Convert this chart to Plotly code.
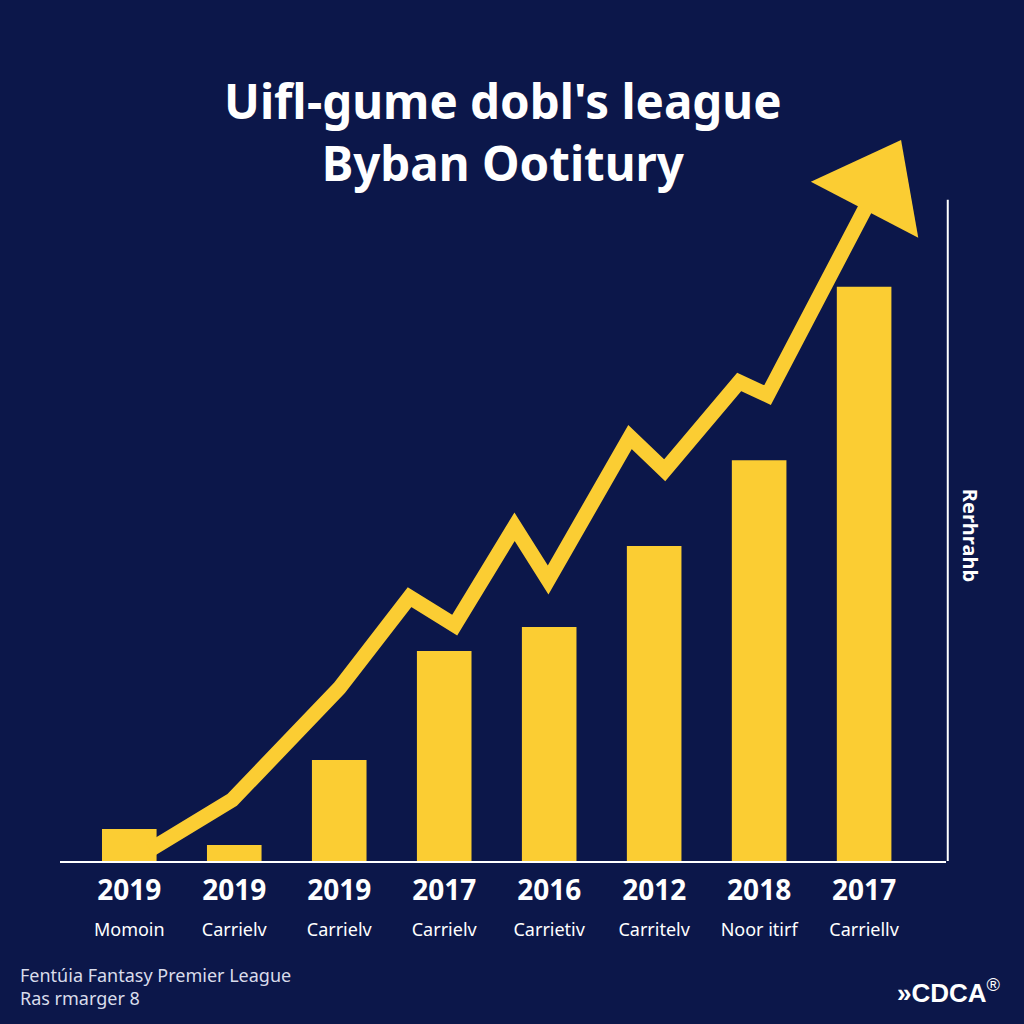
import plotly.graph_objects as go

# ---- data ----
years = ["2019", "2019", "2019", "2017", "2016", "2012", "2018", "2017"]
subs = ["Momoin", "Carrielv", "Carrielv", "Carrielv", "Carrietiv", "Carritelv", "Noor itirf", "Carriellv"]
bar_values = [4.8, 2.4, 15.2, 31.6, 35.2, 47.4, 60.3, 86.4]

trend_x = [0.2, 0.98, 2.0, 2.67, 3.1, 3.67, 3.99, 4.77, 5.1, 5.81, 6.08, 7.12]
trend_y = [1.7, 9.2, 26.0, 39.7, 35.5, 50.3, 42.3, 63.8, 58.8, 72.1, 70.1, 101.5]

title_lines = ["Uifl-gume dobl's league", "Byban Ootitury"]
axis_label = "Rerhrahb"
footer_lines = ["Fentúia Fantasy Premier League", "Ras rmarger 8"]
logo_text = "»CDCA"

BG = "#0c174a"
YEL = "#fbcd33"
FONT = "Noto Sans"

positions = list(range(len(years)))
ticktext = [f"<b>{y}</b><br><span style='font-size:18px'>{s}</span>" for y, s in zip(years, subs)]

fig = go.Figure()
fig.add_trace(go.Bar(x=positions, y=bar_values, width=0.52, marker=dict(color=YEL, line=dict(width=0)),
                     hoverinfo="skip"))

sizes = [0] * (len(trend_x) - 1) + [105]
fig.add_trace(go.Scatter(x=trend_x, y=trend_y, mode="lines+markers",
                         line=dict(color=YEL, width=15),
                         marker=dict(symbol="triangle-up", size=sizes, color=YEL, opacity=1,
                                     angleref="previous", line=dict(width=0)),
                         hoverinfo="skip"))

fig.update_layout(
    width=1024, height=1024,
    paper_bgcolor=BG, plot_bgcolor=BG,
    margin=dict(l=60, r=78, t=130, b=163),
    showlegend=False,
    font=dict(family=FONT, color="white"),
    xaxis=dict(range=[-0.66, 7.78], tickmode="array", tickvals=positions, ticktext=ticktext,
               tickfont=dict(size=28, color="white", family=FONT),
               showgrid=False, zeroline=False, showline=True, linecolor="white", linewidth=2,
               ticks="", ticklabelstandoff=3),
    yaxis=dict(range=[0, 110], showgrid=False, zeroline=False, showticklabels=False, showline=False),
)

# right vertical axis line
fig.add_shape(type="line", xref="paper", yref="y", x0=1.002, x1=1.002, y0=0, y1=99.5,
              line=dict(color="white", width=2))

fig.add_annotation(xref="paper", yref="paper", x=0.5, y=1.0, yshift=64, showarrow=False,
                   text=f"<b>{title_lines[0]}</b><br><b>{title_lines[1]}</b>",
                   font=dict(size=47.5, color="white", family=FONT), align="center")

fig.add_annotation(xref="paper", yref="y", x=1.0, xshift=40, y=49, showarrow=False,
                   text=f"<b>{axis_label}</b>", textangle=90,
                   font=dict(size=20, color="white", family=FONT))

fig.add_annotation(xref="paper", yref="paper", x=-0.047, y=-0.172, xanchor="left", yanchor="middle",
                   showarrow=False, align="left",
                   text=f"{footer_lines[0]}<br>{footer_lines[1]}",
                   font=dict(size=18, color="#d9dceb", family=FONT))

fig.add_annotation(xref="paper", yref="paper", x=1.064, y=-0.179, xanchor="right", yanchor="middle",
                   showarrow=False, text=f"<b>{logo_text}</b><sup>®</sup>",
                   font=dict(size=26, color="white", family="Liberation Sans"))

fig.write_html("out.html", config={"displayModeBar": False},
               post_script="document.body.style.margin='0';document.body.style.background='%s';" % BG)
